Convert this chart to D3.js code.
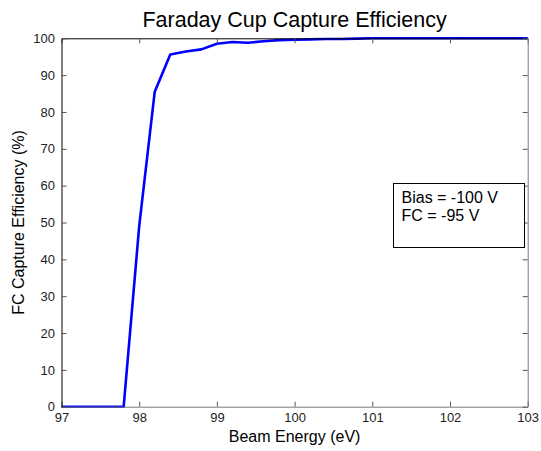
<!DOCTYPE html>
<html>
<head>
<meta charset="utf-8">
<script src="https://cdn.jsdelivr.net/npm/d3@7"></script>
<style>
  body { margin: 0; background: #fff; }
  text { font-family: "Liberation Sans", Arial, sans-serif; }
</style>
</head>
<body>
<svg id="chart" width="541" height="451"></svg>
<script>
// beam energy (eV) and capture efficiency (%)
var energy = [97.0, 97.2, 97.4, 97.6, 97.8, 98.0, 98.2, 98.4, 98.6, 98.8, 99.0, 99.2, 99.4, 99.6, 99.8, 100.0, 100.2, 100.4, 100.6, 100.8, 101.0, 101.5, 102.0, 102.5, 103.0];
var efficiency = [0, 0, 0, 0, 0, 49, 85.5, 95.6, 96.4, 97.0, 98.5, 99.0, 98.8, 99.2, 99.5, 99.6, 99.7, 99.8, 99.8, 99.9, 100, 100, 100, 100, 100];
var xTicks = [97, 98, 99, 100, 101, 102, 103];
var yTicks = [0, 10, 20, 30, 40, 50, 60, 70, 80, 90, 100];
var legendLines = ["Bias = -100 V", "FC = -95 V"];

var plotL = 61.5, plotR = 527.7, plotT = 38.3, plotB = 406.7;

var chart = d3.select("#chart");

var x = d3.scaleLinear().domain([97, 103]).range([plotL, plotR]);
var y = d3.scaleLinear().domain([0, 100]).range([plotB, plotT]);

// data line
var line = d3.line()
  .x(function (d, i) { return x(energy[i]); })
  .y(function (d) { return y(d); });

chart.append("path")
  .datum(efficiency)
  .attr("d", line)
  .attr("fill", "none")
  .attr("stroke", "#0000ff")
  .attr("stroke-width", 2.6)
  .attr("stroke-linejoin", "round");

// axes with inward ticks
var fmt = d3.format("d");
var xAxis = chart.append("g")
  .attr("transform", "translate(0," + plotB + ")")
  .call(d3.axisBottom(x).tickValues(xTicks).tickFormat(fmt).tickSize(-5).tickPadding(6).tickSizeOuter(0));
var xTop = chart.append("g")
  .attr("transform", "translate(0," + plotT + ")")
  .call(d3.axisTop(x).tickValues(xTicks).tickSize(-5).tickFormat("").tickSizeOuter(0));
var yAxis = chart.append("g")
  .attr("transform", "translate(" + plotL + ",0)")
  .call(d3.axisLeft(y).tickValues(yTicks).tickFormat(fmt).tickSize(-5).tickPadding(6.5).tickSizeOuter(0));
var yRight = chart.append("g")
  .attr("transform", "translate(" + plotR + ",0)")
  .call(d3.axisRight(y).tickValues(yTicks).tickSize(-5).tickFormat("").tickSizeOuter(0));

[xAxis, xTop, yAxis, yRight].forEach(function (g) {
  g.selectAll("text").attr("font-family", "Liberation Sans, Arial, sans-serif")
    .attr("font-size", 13).attr("fill", "#222");
  g.selectAll("line").attr("stroke", "#555");
});
xAxis.select(".domain").attr("stroke", "#777");
yRight.select(".domain").attr("stroke", "#777");
xTop.select(".domain").attr("stroke", "#000");
yAxis.select(".domain").attr("stroke", "#000");

// title and labels
chart.append("text")
  .text("Faraday Cup Capture Efficiency")
  .attr("x", (plotL + plotR) / 2)
  .attr("y", 27)
  .attr("text-anchor", "middle")
  .attr("font-size", 21.5)
  .attr("fill", "#000");

chart.append("text")
  .text("Beam Energy (eV)")
  .attr("x", (plotL + plotR) / 2)
  .attr("y", 442)
  .attr("text-anchor", "middle")
  .attr("font-size", 16)
  .attr("fill", "#000");

chart.append("text")
  .text("FC Capture Efficiency (%)")
  .attr("transform", "translate(24," + (plotT + plotB) / 2 + ") rotate(-90)")
  .attr("text-anchor", "middle")
  .attr("font-size", 16)
  .attr("fill", "#000");

// legend box
var legend = chart.append("g").attr("transform", "translate(393.5,183.5)");
legend.append("rect")
  .attr("width", 131)
  .attr("height", 64)
  .attr("fill", "#fff")
  .attr("stroke", "#000")
  .attr("stroke-width", 1);
legend.selectAll("text.item")
  .data(legendLines)
  .enter()
  .append("text")
  .attr("class", "item")
  .text(function (d) { return d; })
  .attr("x", 8)
  .attr("y", function (d, i) { return 19 + i * 18; })
  .attr("font-size", 16)
  .attr("fill", "#000");
</script>
</body>
</html>
